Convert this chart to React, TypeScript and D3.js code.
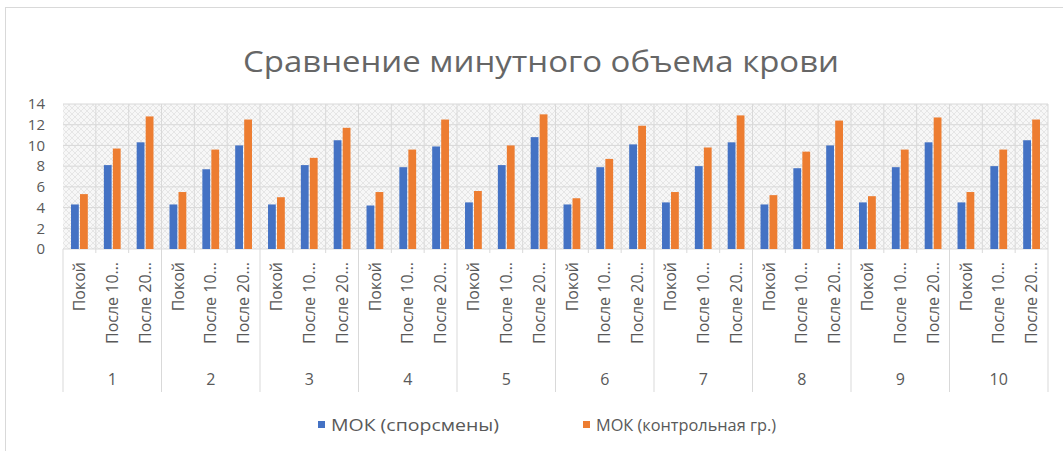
import React from "react";
import * as d3 from "d3";

const groups = ["1", "2", "3", "4", "5", "6", "7", "8", "9", "10"];
const conditions = ["Покой", "После 10…", "После 20…"];
const seriesNames = ["МОК (спорсмены)", "МОК (контрольная гр.)"];
const sportsmen = [
  4.3, 8.1, 10.3,
  4.3, 7.7, 10.0,
  4.3, 8.1, 10.5,
  4.2, 7.9, 9.9,
  4.5, 8.1, 10.8,
  4.3, 7.9, 10.1,
  4.5, 8.0, 10.3,
  4.3, 7.8, 10.0,
  4.5, 7.9, 10.3,
  4.5, 8.0, 10.5,
];
const control = [
  5.3, 9.7, 12.8,
  5.5, 9.6, 12.5,
  5.0, 8.8, 11.7,
  5.5, 9.6, 12.5,
  5.6, 10.0, 13.0,
  4.9, 8.7, 11.9,
  5.5, 9.8, 12.9,
  5.2, 9.4, 12.4,
  5.1, 9.6, 12.7,
  5.5, 9.6, 12.5,
];
const yTicks = [0, 2, 4, 6, 8, 10, 12, 14];
const colors = ["#4472C4", "#ED7D31"];

const W = 1063;
const H = 451;
const plot = { left: 63, right: 1048, top: 104, bottom: 249 };
const axisBottom = 392;
const FONT = "'Open Sans', 'Noto Sans', sans-serif";
const TEXT = "#595959";
const GRID = "#d9d9d9";

export default function App() {
  const cats = groups.flatMap((g) => conditions.map((c) => `${g}|${c}`));
  const x = d3.scaleBand<string>().domain(cats).range([plot.left, plot.right]);
  const y = d3.scaleLinear().domain([0, 14]).range([plot.bottom, plot.top]);
  const groupScale = d3.scaleBand<string>().domain(groups).range([plot.left, plot.right]);
  const bw = 7.8;
  const gap = 1.2;
  const series = [sportsmen, control];
  const legendX = [318, 583];
  const legendLen = [168, 180];

  return (
    <svg
      width={W}
      height={H}
      style={{ position: "absolute", left: 0, top: 0, background: "#fff" }}
      fontFamily={FONT}
    >
      <defs>
        <pattern id="hatch" width="6" height="6" patternUnits="userSpaceOnUse">
          <rect width="6" height="6" fill="#f7f7f7" />
          <path d="M0,0 L6,6 M6,0 L0,6" stroke="#e2e2e2" strokeWidth="0.8" />
        </pattern>
      </defs>
      <rect x={5.5} y={7.5} width={W + 10} height={H + 10} fill="#fff" stroke={GRID} />
      <text
        x={541}
        y={72}
        textAnchor="middle"
        fontSize={29}
        fill="#666"
        textLength={596}
        lengthAdjust="spacingAndGlyphs"
      >
        Сравнение минутного объема крови
      </text>
      <rect
        x={plot.left}
        y={plot.top}
        width={plot.right - plot.left}
        height={plot.bottom - plot.top}
        fill="url(#hatch)"
      />
      {yTicks.map((t) => (
        <g key={t}>
          {t > 0 && (
            <line x1={plot.left} x2={plot.right} y1={y(t)} y2={y(t)} stroke={GRID} />
          )}
          <text x={45} y={y(t)} dy="0.35em" textAnchor="end" fontSize={15} fill={TEXT}>
            {t}
          </text>
        </g>
      ))}
      {cats.map((c, i) =>
        i === 0 ? null : (
          <line
            key={c}
            x1={x(c)!}
            x2={x(c)!}
            y1={plot.top}
            y2={i % 3 === 0 ? axisBottom : plot.bottom + 4}
            stroke={GRID}
          />
        )
      )}
      <line x1={plot.left} x2={plot.left} y1={plot.bottom} y2={axisBottom} stroke={GRID} />
      <line x1={plot.right} x2={plot.right} y1={plot.top} y2={axisBottom} stroke={GRID} />
      <line x1={plot.left} x2={plot.right} y1={plot.bottom} y2={plot.bottom} stroke={GRID} />
      {series.map((vals, s) =>
        vals.map((v, i) => {
          const cx = x(cats[i])! + x.bandwidth() / 2;
          const bx = s === 0 ? cx - gap / 2 - bw : cx + gap / 2;
          return (
            <rect
              key={`${s}-${i}`}
              x={bx}
              y={y(v)}
              width={bw}
              height={y(0) - y(v)}
              fill={colors[s]}
            />
          );
        })
      )}
      {cats.map((c) => {
        const cond = c.split("|")[1];
        const cx = x(c)! + x.bandwidth() / 2;
        return (
          <text
            key={`l-${c}`}
            transform={`translate(${cx},${plot.bottom + 13}) rotate(-90)`}
            textAnchor="end"
            dy="0.35em"
            fontSize={16}
            fill={TEXT}
          >
            {cond}
          </text>
        );
      })}
      {groups.map((g) => (
        <text
          key={`g-${g}`}
          x={groupScale(g)! + groupScale.bandwidth() / 2}
          y={379}
          dy="0.35em"
          textAnchor="middle"
          fontSize={16}
          fill={TEXT}
        >
          {g}
        </text>
      ))}
      {seriesNames.map((n, i) => {
        const lx = legendX[i];
        return (
          <g key={n}>
            <rect x={lx} y={421} width={7} height={7} fill={colors[i]} />
            <text
              x={lx + 13}
              y={425}
              dy="0.35em"
              fontSize={16}
              fill={TEXT}
              textLength={legendLen[i]}
              lengthAdjust="spacingAndGlyphs"
            >
              {n}
            </text>
          </g>
        );
      })}
    </svg>
  );
}
